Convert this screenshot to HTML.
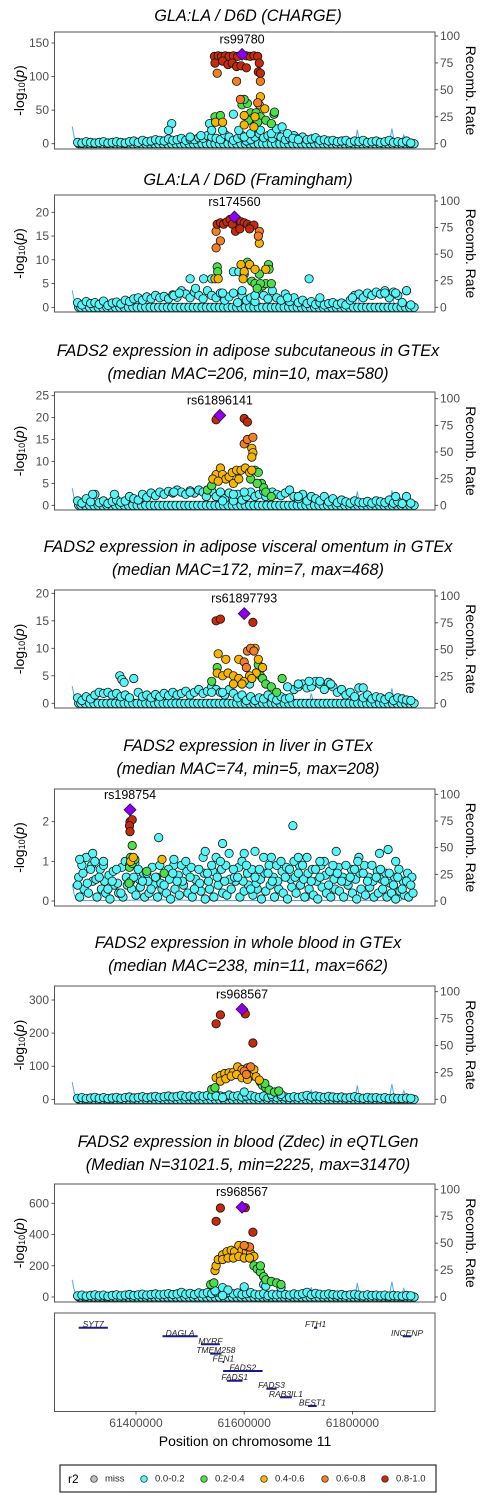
<!DOCTYPE html>
<html><head><meta charset="utf-8">
<style>
html,body{margin:0;padding:0;background:#fff;}
svg{display:block;font-family:"Liberation Sans",Arial,sans-serif;}
</style></head>
<body>
<svg id="chart" width="500" height="1500" viewBox="0 0 500 1500" xmlns="http://www.w3.org/2000/svg"></svg>
<script>
// ---------- data ----------
const basePos=[61292,61300,61308,61316,61324,61332,61340,61348,61356,61364,61372,61380,61388,61396,61404,61412,61420,61428,61436,61444,61452,61460,61468,61476,61484,61492,61500,61508,61516,61524,61532,61540,61548,61556,61564,61572,61580,61588,61596,61604,61612,61620,61628,61636,61644,61652,61660,61668,61676,61684,61692,61700,61708,61716,61724,61732,61740,61748,61756,61764,61772,61780,61788,61796,61804,61812,61820,61828,61836,61844,61852,61860,61868,61876,61884,61892,61900,61908];
const recPos=[61282,61286,61290,61294,61350,61400,61450,61500,61550,61600,61650,61700,61720,61724,61728,61732,61760,61805,61809,61813,61817,61840,61868,61873,61877,61882,61890,61895,61900,61910];
const recVal=[16,6,1,0.5,0.6,0.8,1,0.7,0.5,0.5,0.6,0.5,0.5,9,1,0.5,0.6,0.5,13,2,0.5,0.6,0.5,14,3,0.5,0.5,8,0.5,0.5];

const p1Base=[2,1,3,2,1,2,3,1,2,3, 2,1,3,4,2,5,3,4,6,5, 4,7,5,6,8,5,7,6,9,8, 12,10,8,6,14,10,5,8,12,4, 6,10,15,9,12,8,14,10,6,9, 12,8,10,6,7,9,5,6,4,5, 3,4,5,2,4,3,5,2,3,4, 2,3,5,2,3,2,4,1];
const p1Cyan=[[61466,30],[61460,20],[61536,30],[61540,20],[61560,20],[61580,44],[61590,20],[61600,10],[61612,15],[61630,20],[61650,15],[61660,22],[61670,25],[61680,15],[61520,12],[61500,10],[61690,8],[61700,6]];
const p1Green=[[61546,40],[61556,42],[61596,58],[61606,60],[61600,66],[61612,46],[61622,46],[61630,40],[61640,35],[61650,30],[61655,44],[61656,47],[61615,38],[61608,35],[61625,32]];
const p1Yellow=[[61630,70],[61628,58],[61638,52],[61547,32],[61560,32],[61620,40],[61600,42],[61600,28],[61618,25]];
const p1Orange=[[61550,105],[61586,93],[61630,93],[61593,66],[61625,61]];
const p1Red=[[61545,130],[61552,131],[61558,130],[61565,131],[61572,130],[61580,131],[61588,130],[61604,131],[61611,130],[61618,131],[61625,130],[61546,120],[61560,123],[61570,118],[61578,120],[61586,115],[61594,116],[61604,113],[61628,120],[61626,107],[61630,105]];
const p1Lead=[61596,133];

const p2Base=[1,0.5,1.2,0.8,1,0.6,1.3,0.4,0.9,1.1, 0.7,1.5,1.2,1.8,2,1.5,2.2,1.8,2.5,2, 2.3,1.8,2.6,2.1,3.5,2.8,2,3.2,2.5,1.8, 3.5,2.5,2,3,1.5,2.2,3,1,2.5,1.5, 2,1.2,3,2.5,1.8,3.5,2,1.5,2.8,1.2, 2,1,1.5,0.8,1.2,0.6,1,0.5,0.8,1, 0.6,0.9,0.5,1.5,2.5,2.8,2,3,2.5,3.2, 2.8,3.5,2,3.2,2.5,1,3.5,0.5];
const p2Cyan=[[61500,6],[61525,6],[61540,6],[61580,7.5],[61590,7.5],[61600,7],[61720,6],[61470,2.5],[61480,3],[61510,4],[61560,3],[61596,3.5],[61620,2.5],[61680,2],[61740,2],[61800,2],[61880,3],[61900,3.5],[61860,3]];
const p2Green=[[61550,8.5],[61551,7.5],[61606,9.5],[61610,9],[61614,5.5],[61620,5],[61628,7],[61634,4.5],[61645,9],[61646,8],[61640,5],[61630,5],[61624,4],[61650,5]];
const p2Yellow=[[61628,13.5],[61546,6],[61552,6],[61594,9],[61600,7.5],[61610,9],[61620,8],[61640,8],[61598,6]];
const p2Orange=[[61548,16],[61556,14],[61548,12.5],[61628,16],[61626,15]];
const p2Red=[[61550,17.5],[61556,17.8],[61562,17.5],[61568,18],[61574,18.5],[61588,18.3],[61594,18],[61600,17.8],[61606,17.5],[61612,17],[61618,17.3],[61578,17.5],[61584,16],[61592,16.5],[61610,16.5]];
const p2Lead=[61582,19];

const p3Base=[1,0.5,1.5,0.8,2.5,0.6,1,0.4,0.9,1.2, 0.7,1,2,1.5,1.2,2.5,1.8,2.8,2.2,3, 2.5,3.2,2.8,3.5,3,2.5,3.3,2.8,3.5,3, 2.6,3.2,2,3,1.5,2.8,1,2.5,1.2,2, 3,2,2.5,3.2,2.8,3,2.5,2.2,2.8,3.5, 2,1.5,2.5,1,2,1.5,1,2,0.8,1.5, 0.6,1.2,0.8,0.5,1,0.7,0.6,0.9,0.5,1, 0.8,0.6,1.2,0.5,0.9,0.4,2,0.5];
const p3Cyan=[[61470,3],[61500,3],[61530,2],[61560,1],[61580,2.5],[61600,3],[61640,2],[61700,2],[61880,2],[61320,2.5],[61360,2.5]];
const p3Green=[[61532,3.5],[61540,4.5],[61612,6],[61620,8],[61626,7.5],[61632,5],[61636,4],[61640,3],[61650,2],[61624,5]];
const p3Yellow=[[61614,13],[61616,12],[61614,11],[61548,7],[61556,8.5],[61560,7],[61566,6],[61572,6.5],[61578,7.5],[61586,8],[61594,8],[61602,8.5],[61610,7.5],[61614,8],[61542,6],[61552,5.5],[61580,5],[61590,6]];
const p3Orange=[[61600,14],[61606,15],[61616,15.5]];
const p3Red=[[61548,19.5],[61600,19.8],[61606,19]];
const p3Lead=[61555,20.5];

const p4Base=[1,0.5,1.2,0.8,1.5,2,1.8,2,1.5,1.8, 1.2,1.5,1,4.5,2,1.2,1.5,1,1.6,1.2, 1.8,1.4,2,1.5,1.8,2.2,1.5,2,2.5,1.8, 2.2,3,2.5,2,1.5,2.5,1.8,1,1.5,0.5, 1.2,0.5,1,0.8,1.5,1,0.6,1.2,0.8,1, 2.5,3,3.5,2.8,3,4,3.5,2.5,3.8,3, 2,2.5,1.5,2,1.2,2.8,1,1.5,0.8,1.2, 1,0.7,1.2,0.5,1,0.8,0.6,0.5];
const p4Cyan=[[61370,5],[61374,4.3],[61378,3.8],[61540,2],[61560,2],[61610,3.5],[61680,3],[61700,3.5],[61720,4],[61740,4],[61760,3.5],[61820,2.8]];
const p4Green=[[61540,4],[61550,6.5],[61626,7],[61630,5],[61634,4.5],[61640,3.5],[61650,3],[61660,2],[61670,4.5]];
const p4Yellow=[[61552,9],[61566,8],[61590,8],[61620,10],[61626,8],[61622,5.5],[61550,5.5],[61560,5],[61570,5.5],[61580,5],[61590,4.5],[61600,4],[61610,5],[61580,3.5],[61596,3.5],[61614,4.5],[61634,6.5]];
const p4Orange=[[61600,7.5],[61604,6.5],[61606,9.5],[61612,10],[61618,9.5]];
const p4Red=[[61548,15],[61556,15.3],[61616,14.7]];
const p4Lead=[61600,16.3];

const p5Base=[0.4,0.9,1.1,0.8,1.0,0.6,0.9,0.3,0.5,0.8, 0.2,1.0,0.9,0.6,0.8,0.5,0.7,0.3,0.6,0.9, 0.4,0.8,0.7,0.5,0.9,1.0,0.6,0.3,0.8,1.1, 0.7,0.9,1.1,1.0,0.5,1.2,0.8,0.6,1.0,0.9, 0.3,0.6,0.8,1.1,0.7,0.5,0.9,1.0,0.6,0.8, 1.0,0.7,0.9,1.1,0.5,0.8,0.6,1.0,0.4,0.9, 0.7,0.5,0.9,0.6,0.8,1.1,0.7,0.5,0.9,0.6, 0.8,0.5,0.7,0.4,0.6,0.3,0.5,0.4];
const p5Mid=[0.6,0.7,0.45,0.9,0.55,0.8,0.5,0.65,0.75,0.45, 0.85,0.6,0.5,0.95,0.55,0.7,0.5,0.85,0.6,0.45, 0.7,0.55,0.9,0.65,0.5,0.75,0.85,0.55,0.45,0.7, 0.5,0.75,0.6,0.8,0.9,0.55,0.6,0.85,0.5,0.7, 0.8,0.45,0.55,0.7,0.9,0.6,0.5,0.75,0.85,0.55, 0.6,0.9,0.55,0.7,0.8,0.5,0.9,0.65,0.75,0.55, 0.85,0.6,0.5,0.8,0.55,0.7,0.9,0.6,0.5,0.75, 0.55,0.7,0.45,0.6,0.8,0.5,0.7,0.6];
const p5Low=[0.1,0.3,0.2,0.5,0.1,0.3,0.2,0.05,0.4,0.2, 0.1,0.4,0.3,0.15,0.35,0.1,0.2,0.4,0.1,0.3, 0.2,0.05,0.3,0.15,0.4,0.2,0.1,0.35,0.25,0.05, 0.3,0.1,0.4,0.2,0.15,0.3,0.5,0.1,0.25,0.4, 0.15,0.3,0.05,0.25,0.4,0.1,0.3,0.2,0.05,0.35, 0.2,0.4,0.1,0.3,0.15,0.05,0.35,0.2,0.1,0.3, 0.25,0.1,0.4,0.2,0.05,0.3,0.15,0.35,0.1,0.2, 0.3,0.1,0.2,0.05,0.25,0.15,0.1,0.2];
const p5Cyan=[[61442,1.6],[61560,1.45],[61528,1.25],[61690,1.9],[61770,1.25],[61850,1.2],[61880,1.0],[61320,1.2],[61296,1.05],[61600,1.2],[61620,1.25],[61650,1.1],[61700,1.1],[61740,1.0],[61810,1.0],[61866,1.3],[61470,1.05],[61340,1.0]];
const p5Green=[[61393,1.4],[61390,1.1],[61388,0.85],[61393,0.95],[61398,1.05],[61452,0.7],[61420,0.75],[61387,0.45]];
const p5Yellow=[[61390,1.0],[61395,1.1],[61448,1.05]];
const p5Orange=[];
const p5Red=[[61389,2.0],[61393,2.05],[61388,1.9],[61389,1.75]];
const p5Lead=[61389,2.3];

const p6Base=[3,5,2,4,6,3,5,2,4,6, 3,5,7,4,6,8,5,7,9,6, 8,10,7,9,12,8,10,7,11,9, 12,9,14,10,8,13,9,11,7,10, 12,8,6,10,5,8,6,9,7,5, 8,6,9,12,7,10,8,6,9,7, 5,7,4,6,8,5,3,6,4,5, 3,5,2,4,3,2,4,3];
const p6Cyan=[[61548,10],[61560,5],[61600,22],[61650,15],[61668,15]];
const p6Green=[[61540,30],[61546,35],[61630,52],[61634,42],[61640,35],[61646,28],[61656,22],[61664,25],[61638,48]];
const p6Yellow=[[61548,65],[61556,72],[61564,78],[61572,80],[61580,82],[61588,98],[61596,90],[61604,85],[61612,70],[61618,90],[61622,68],[61628,58],[61556,55],[61566,62],[61576,70],[61586,75],[61596,65],[61606,60]];
const p6Orange=[[61606,95],[61612,98],[61600,85],[61604,75]];
const p6Red=[[61548,228],[61556,255],[61602,258],[61616,170]];
const p6Lead=[61596,272];

const p7Base=[8,12,6,10,14,8,12,5,10,14, 8,12,16,10,14,18,12,16,20,14, 18,22,16,20,30,18,24,16,26,20, 28,22,32,24,18,30,20,26,16,22, 28,18,14,22,10,18,14,20,16,12, 20,14,22,30,16,24,18,14,20,16, 12,16,10,14,18,12,8,14,10,12, 8,12,6,10,8,6,10,8];
const p7Cyan=[[61546,40],[61560,60],[61570,45],[61600,65],[61636,80],[61640,70],[61668,60],[61560,10]];
const p7Green=[[61538,80],[61544,90],[61618,200],[61624,180],[61630,160],[61636,130],[61640,110],[61650,100],[61660,90],[61668,80],[61630,200]];
const p7Yellow=[[61546,170],[61548,200],[61552,240],[61560,270],[61568,290],[61576,300],[61582,290],[61590,330],[61596,300],[61604,290],[61612,280],[61618,260],[61560,240],[61570,250],[61580,250],[61590,260],[61600,250],[61610,250]];
const p7Orange=[[61604,325],[61610,320],[61600,330]];
const p7Red=[[61548,485],[61556,570],[61602,572],[61616,415]];
const p7Lead=[61596,575];

const geneNames=["SYT7","DAGLA","MYRF","TMEM258","FEN1","FADS2","FADS1","FADS3","RAB3IL1","BEST1","FTH1","INCENP"];
const geneStart=[61294,61449,61520,61537,61560,61561,61568,61641,61666,61718,61729,61893];
const geneEnd=[61348,61514,61555,61558,61563,61634,61597,61660,61688,61734,61735,61909];
const geneRow=[0,1,2,3,4,5,6,7,8,9,0,1];
const xTicks=[61400,61600,61800];

// ---------- helpers ----------
const NS="http://www.w3.org/2000/svg";
const svg=document.getElementById("chart");
function mk(tag,attrs,parent){const e=document.createElementNS(NS,tag);for(const k in attrs)e.setAttribute(k,attrs[k]);(parent||svg).appendChild(e);return e;}
const X=p=>136+(p-61400)*0.541;
const COL={miss:"#c0c0c0",c1:"#55F5F7",c2:"#4BE04B",c3:"#F7B500",c4:"#F57E24",c5:"#C42A0C"};

const panels=[
 {id:"charge",title:["GLA:LA / D6D (CHARGE)"],ty:[16],top:32,bot:149,y0:143.7,tv:150,tp:43,ticks:[0,50,100,150],r100:36,base:p1Base,mid:null,low:null,cyan:p1Cyan,green:p1Green,yellow:p1Yellow,orange:p1Orange,red:p1Red,lead:p1Lead,label:"rs99780"},
 {id:"framingham",title:["GLA:LA / D6D (Framingham)"],ty:[180],top:195,bot:312,y0:307.3,tv:20,tp:212.3,ticks:[0,5,10,15,20],r100:201,base:p2Base,mid:null,low:null,cyan:p2Cyan,green:p2Green,yellow:p2Yellow,orange:p2Orange,red:p2Red,lead:p2Lead,label:"rs174560"},
 {id:"adipose-subcutaneous",title:["FADS2 expression in adipose subcutaneous in GTEx","(median MAC=206, min=10, max=580)"],ty:[351,374],top:392,bot:510,y0:505.3,tv:25,tp:395.7,ticks:[0,5,10,15,20,25],r100:398.7,base:p3Base,mid:null,low:null,cyan:p3Cyan,green:p3Green,yellow:p3Yellow,orange:p3Orange,red:p3Red,lead:p3Lead,label:"rs61896141"},
 {id:"adipose-visceral",title:["FADS2 expression in adipose visceral omentum in GTEx","(median MAC=172, min=7, max=468)"],ty:[547,570],top:590,bot:708,y0:703.3,tv:20,tp:593.3,ticks:[0,5,10,15,20],r100:596,base:p4Base,mid:null,low:null,cyan:p4Cyan,green:p4Green,yellow:p4Yellow,orange:p4Orange,red:p4Red,lead:p4Lead,label:"rs61897793"},
 {id:"liver",title:["FADS2 expression in liver in GTEx","(median MAC=74, min=5, max=208)"],ty:[746,769],top:789,bot:906,y0:901,tv:2,tp:821.7,ticks:[0,1,2],r100:794.3,base:p5Base,mid:p5Mid,low:p5Low,cyan:p5Cyan,green:p5Green,yellow:p5Yellow,orange:p5Orange,red:p5Red,lead:p5Lead,label:"rs198754"},
 {id:"whole-blood",title:["FADS2 expression in whole blood in GTEx","(median MAC=238, min=11, max=662)"],ty:[943,966],top:986,bot:1104,y0:1099.3,tv:300,tp:1000,ticks:[0,100,200,300],r100:991.7,base:p6Base,mid:null,low:null,cyan:p6Cyan,green:p6Green,yellow:p6Yellow,orange:p6Orange,red:p6Red,lead:p6Lead,label:"rs968567"},
 {id:"eqtlgen-blood",title:["FADS2 expression in blood (Zdec) in eQTLGen","(Median N=31021.5, min=2225, max=31470)"],ty:[1142,1165],top:1184,bot:1302,y0:1297,tv:600,tp:1203.3,ticks:[0,200,400,600],r100:1189.3,base:p7Base,mid:null,low:null,cyan:p7Cyan,green:p7Green,yellow:p7Yellow,orange:p7Orange,red:p7Red,lead:p7Lead,label:"rs968567"}
];

panels.forEach((P,pi)=>{
  const g=mk("g",{});
  
  
  const Y=v=>P.y0-v*(P.y0-P.tp)/P.tv;
  const YR=v=>P.y0-v*(P.y0-P.r100)/100;
  P.title.forEach((t,i)=>{
    const tt=mk("text",{x:248,y:P.ty[i],"text-anchor":"middle","dominant-baseline":"central","font-size":"16.3","font-style":"italic",fill:"#000"},g);
    tt.textContent=t;
    
    
  });
  let d="";
  recPos.forEach((p,i)=>{d+=(i?"L":"M")+X(p).toFixed(1)+","+YR(recVal[i]).toFixed(1);});
  const rl=mk("path",{d:d,fill:"none",stroke:"#4DA6FF","stroke-width":"1"},g);
  
  
  function pt(p,v,c){
    const cc=mk("circle",{cx:X(p).toFixed(1),cy:Y(v).toFixed(1),r:"4.2",fill:c,stroke:"#111","stroke-width":"0.8"},g);
    
    
  }
  if(P.low){
    P.low.forEach((v,i)=>pt(basePos[i]+4,v,COL.c1));
    P.mid.forEach((v,i)=>pt(basePos[i]+2,v,COL.c1));
  } else {
    basePos.forEach(p=>pt(p+2,0,COL.c1));
    basePos.forEach(p=>pt(p+6,0,COL.c1));
  }
  P.base.forEach((v,i)=>pt(basePos[i],v,COL.c1));
  P.cyan.forEach(a=>pt(a[0],a[1],COL.c1));
  P.green.forEach(a=>pt(a[0],a[1],COL.c2));
  P.yellow.forEach(a=>pt(a[0],a[1],COL.c3));
  P.orange.forEach(a=>pt(a[0],a[1],COL.c4));
  P.red.forEach(a=>pt(a[0],a[1],COL.c5));
  const lx=X(P.lead[0]),ly=Y(P.lead[1]);
  const dm=mk("path",{d:`M${lx},${ly-6}L${lx+6},${ly}L${lx},${ly+6}L${lx-6},${ly}Z`,fill:"#8B00E8",stroke:"#2a0040","stroke-width":"0.7"},g);
  
  
  const lb=mk("text",{x:lx,y:ly-11,"text-anchor":"middle","font-size":"12.5",fill:"#000"},g);
  lb.textContent=P.label;
  
  
  const fr=mk("rect",{x:54.5,y:P.top,width:380.5,height:P.bot-P.top,fill:"none",stroke:"#555","stroke-width":"1"},g);
  
  
  P.ticks.forEach(t=>{
    const y=Y(t);
    mk("line",{x1:51.5,x2:54.5,y1:y,y2:y,stroke:"#333","stroke-width":"0.8"},g);
    const tl=mk("text",{x:49,y:y,"text-anchor":"end","dominant-baseline":"central","font-size":"12",fill:"#4d4d4d"},g);
    tl.textContent=t;
    
    
  });
  [0,25,50,75,100].forEach(t=>{
    const y=YR(t);
    mk("line",{x1:435,x2:438,y1:y,y2:y,stroke:"#333","stroke-width":"0.8"},g);
    const tl=mk("text",{x:440,y:y,"dominant-baseline":"central","font-size":"12",fill:"#4d4d4d"},g);
    tl.textContent=t;
    
    
  });
  const cy=(P.top+P.bot)/2;
  const yl=mk("text",{transform:`translate(19,${cy}) rotate(-90)`,"text-anchor":"middle","dominant-baseline":"central","font-size":"14",fill:"#000"},g);
  yl.innerHTML='-log<tspan font-size="9" dy="3">10</tspan><tspan dy="-3">(</tspan><tspan font-style="italic">p</tspan>)';
  
  
  const rr=mk("text",{transform:`translate(471,${cy}) rotate(90)`,"text-anchor":"middle","dominant-baseline":"central","font-size":"14",fill:"#000"},g);
  rr.textContent="Recomb. Rate";
  
  
});

// gene track
const gg=mk("g",{});


const rowY=[1327.7,1336.3,1344.3,1353.7,1362,1371,1380.7,1388.7,1397.3,1406];
geneNames.forEach((n,i)=>{
  const y=rowY[geneRow[i]];
  const ln=mk("line",{x1:X(geneStart[i]),x2:Math.max(X(geneEnd[i]),X(geneStart[i])+1.5),y1:y,y2:y,stroke:"#1a1a8c","stroke-width":"2"},gg);
  
  
  const t=mk("text",{x:(X(geneStart[i])+X(geneEnd[i]))/2,y:y-0.5,"text-anchor":"middle","font-size":"8.5","font-style":"italic",fill:"#222"},gg);
  t.textContent=n;
  
  
});
const gf=mk("rect",{x:54.5,y:1313,width:380.5,height:98.5,fill:"none",stroke:"#555","stroke-width":"1"},gg);


xTicks.forEach(t=>{
  const x=X(t);
  mk("line",{x1:x,x2:x,y1:1411.5,y2:1414.5,stroke:"#333","stroke-width":"0.8"},gg);
  const tl=mk("text",{x:x,y:1423,"text-anchor":"middle","dominant-baseline":"central","font-size":"12",fill:"#4d4d4d"},gg);
  tl.textContent=t*1000;
  
  
});
const xt=mk("text",{x:245,y:1441,"text-anchor":"middle","dominant-baseline":"central","font-size":"14",fill:"#000"},gg);
xt.textContent="Position on chromosome 11";



// legend
const lg=mk("g",{});


mk("rect",{x:60,y:1465,width:376,height:27,fill:"#fff",stroke:"#000","stroke-width":"1"},lg);
const lt=mk("text",{x:68,y:1479,"dominant-baseline":"central","font-size":"12",fill:"#000"},lg);
lt.textContent="r2";


const legLabels=["miss","0.0-0.2","0.2-0.4","0.4-0.6","0.6-0.8","0.8-1.0"];
const legCols=[COL.miss,COL.c1,COL.c2,COL.c3,COL.c4,COL.c5];
const legX=[94,144,204,264,325,385];
legLabels.forEach((l,i)=>{
  const c=mk("circle",{cx:legX[i],cy:1479,r:3.3,fill:legCols[i],stroke:"#222","stroke-width":"0.7"},lg);
  
  
  const t=mk("text",{x:legX[i]+11,y:1479,"dominant-baseline":"central","font-size":"9.5",fill:"#222"},lg);
  t.textContent=l;
  
  
});
</script>
</body></html>
